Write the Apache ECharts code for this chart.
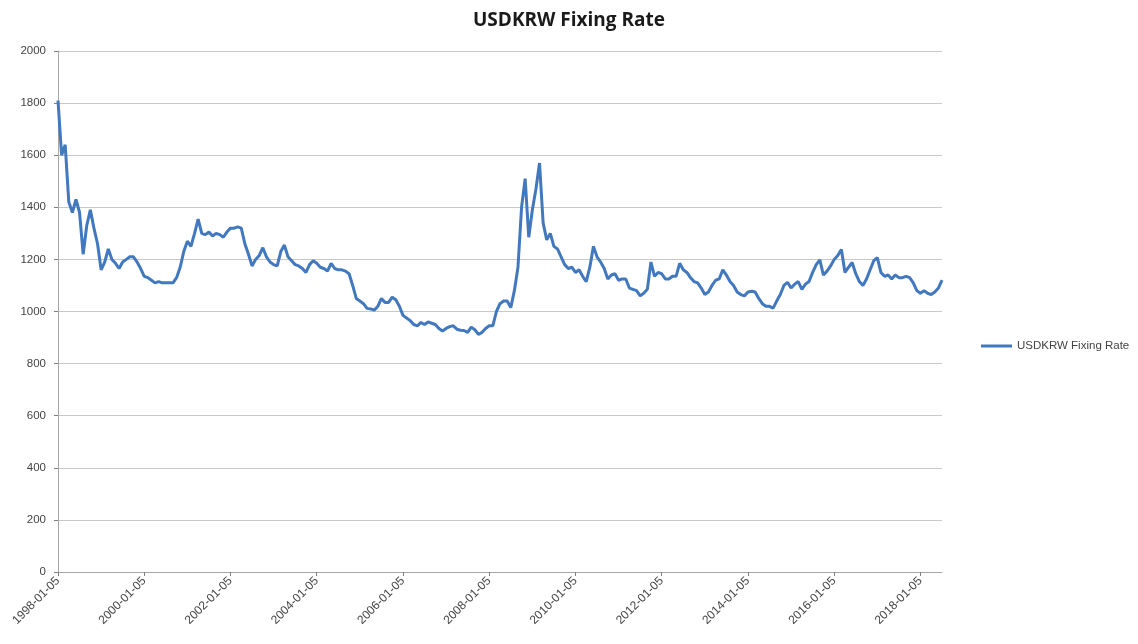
<!DOCTYPE html>
<html>
<head>
<meta charset="utf-8">
<script src="https://cdn.jsdelivr.net/npm/echarts@6/dist/echarts.min.js"></script>
<style>
html,body{margin:0;padding:0;background:#fff;}
#c{width:1138px;height:644px;}
</style>
</head>
<body>
<div id="c"></div>
<script>
// Monthly USDKRW fixing, one array per year, Jan..Dec
const years = [1998,1999,2000,2001,2002,2003,2004,2005,2006,2007,2008,2009,2010,2011,2012,2013,2014,2015,2016,2017,2018];
const v1998 = [1810,1600,1640,1420,1380,1430,1380,1220,1330,1390,1320,1260];
const v1999 = [1160,1190,1240,1200,1185,1165,1190,1200,1210,1210,1190,1165];
const v2000 = [1135,1130,1120,1110,1115,1110,1110,1110,1110,1130,1170,1230];
const v2001 = [1270,1250,1300,1355,1300,1295,1305,1290,1300,1295,1285,1305];
const v2002 = [1320,1320,1325,1320,1260,1220,1175,1200,1215,1245,1210,1190];
const v2003 = [1180,1175,1230,1255,1210,1195,1180,1175,1165,1150,1180,1195];
const v2004 = [1185,1170,1165,1155,1185,1165,1160,1160,1155,1145,1100,1050];
const v2005 = [1040,1030,1012,1010,1005,1020,1050,1035,1035,1055,1045,1020];
const v2006 = [985,975,965,950,945,958,950,960,955,950,935,925];
const v2007 = [935,942,945,932,928,927,920,940,930,912,920,935];
const v2008 = [945,945,1000,1030,1040,1040,1015,1080,1170,1400,1510,1285];
const v2009 = [1390,1470,1570,1340,1275,1300,1250,1240,1210,1180,1165,1170];
const v2010 = [1150,1160,1135,1115,1170,1250,1210,1190,1165,1125,1140,1145];
const v2011 = [1120,1125,1125,1090,1085,1080,1060,1070,1085,1190,1135,1150];
const v2012 = [1145,1125,1125,1135,1135,1185,1160,1150,1130,1115,1110,1090];
const v2013 = [1065,1075,1100,1120,1125,1160,1140,1115,1100,1075,1065,1060];
const v2014 = [1075,1078,1075,1050,1030,1020,1020,1013,1040,1065,1100,1112];
const v2015 = [1090,1105,1115,1085,1105,1115,1150,1180,1198,1140,1155,1175];
const v2016 = [1200,1215,1238,1150,1170,1188,1145,1115,1100,1125,1160,1195];
const v2017 = [1207,1150,1135,1140,1125,1140,1130,1130,1135,1130,1110,1080];
const v2018 = [1070,1080,1070,1065,1075,1090,1120];
const yearValues = [v1998,v1999,v2000,v2001,v2002,v2003,v2004,v2005,v2006,v2007,v2008,v2009,v2010,v2011,v2012,v2013,v2014,v2015,v2016,v2017,v2018];
const seriesName = 'USDKRW Fixing Rate';

const categories = [];
const values = [];
years.forEach((y, i) => {
  yearValues[i].forEach((v, m) => {
    categories.push(y + '-' + String(m + 1).padStart(2, '0') + '-05');
    values.push(v);
  });
});

const chart = echarts.init(document.getElementById('c'), null, {renderer: 'canvas'});
chart.setOption({
  animation: false,
  backgroundColor: '#ffffff',
  title: {
    text: 'USDKRW Fixing Rate',
    left: 'center',
    top: 6,
    textStyle: {fontFamily: 'Open Sans', fontWeight: 'bold', fontSize: 19, color: '#1a1a1a'}
  },
  legend: {
    orient: 'vertical',
    left: 976,
    top: 335,
    itemWidth: 31,
    itemHeight: 3,
    itemGap: 4,
    icon: 'rect',
    textStyle: {fontFamily: 'Liberation Sans', fontSize: 11.5, color: '#444'},
    data: [seriesName]
  },
  grid: {left: 58, right: 196, top: 51, bottom: 72},
  xAxis: {
    type: 'category',
    data: categories,
    boundaryGap: false,
    axisLine: {lineStyle: {color: '#a6a6a6', width: 1}},
    axisTick: {show: true, interval: 23, length: 4, lineStyle: {color: '#808080'}},
    axisLabel: {
      interval: 23,
      rotate: 45,
      fontFamily: 'Liberation Sans',
      fontSize: 12,
      color: '#444',
      margin: 7
    },
    splitLine: {show: false}
  },
  yAxis: {
    type: 'value',
    min: 0,
    max: 2000,
    interval: 200,
    axisLine: {show: true, lineStyle: {color: '#a6a6a6', width: 1}},
    axisTick: {show: true, length: 4, lineStyle: {color: '#808080'}},
    axisLabel: {fontFamily: 'Liberation Sans', fontSize: 11.5, color: '#444', margin: 12,
      formatter: function (v) { return String(v); }},
    splitLine: {lineStyle: {color: '#c8c8c8', width: 1}}
  },
  series: [{
    name: seriesName,
    type: 'line',
    data: values,
    showSymbol: false,
    symbol: 'none',
    lineStyle: {color: '#4178be', width: 3},
    itemStyle: {color: '#4178be'}
  }]
});
</script>
</body>
</html>
